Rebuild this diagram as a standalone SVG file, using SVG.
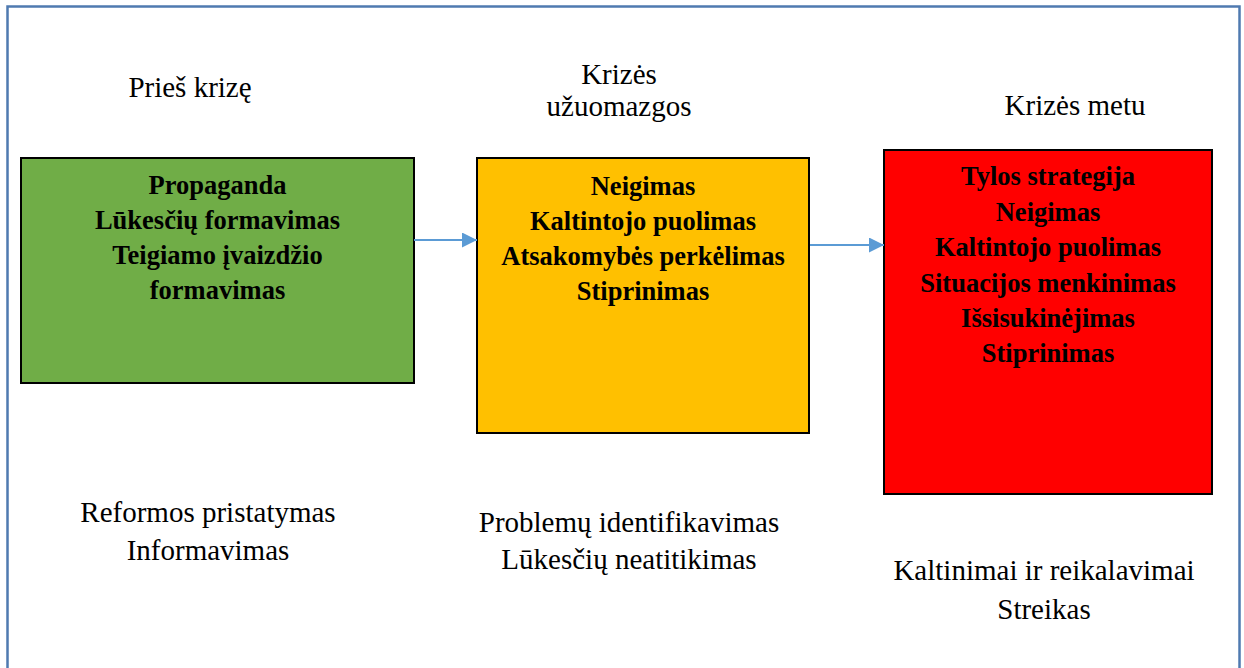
<svg xmlns="http://www.w3.org/2000/svg" width="1244" height="668" viewBox="0 0 1244 668">
<defs>
<marker id="ah" markerWidth="16" markerHeight="16" refX="15" refY="7.5" orient="auto" markerUnits="userSpaceOnUse">
<path d="M0,0 L15,7.5 L0,15 Z" fill="#5B9BD5"/>
</marker>
<style>
.box{stroke:#000;stroke-width:2}
.b{font-family:"Liberation Serif","Times New Roman",serif;font-weight:bold;font-size:26.5px;text-anchor:middle;fill:#000}
.r{font-family:"Liberation Serif","Times New Roman",serif;font-size:29px;text-anchor:middle;fill:#000}
.con{stroke:#5B9BD5;stroke-width:2;fill:none}
</style>
</defs>
<rect x="0" y="0" width="1244" height="668" fill="#fff"/>
<rect x="7.5" y="6.5" width="1232" height="680" fill="none" stroke="#4F7AB0" stroke-width="2.5"/>

<g id="labels">
<text class="r" x="190" y="97">Prieš krizę</text>
<text class="r" x="619" y="84">Krizės</text>
<text class="r" x="619" y="116">užuomazgos</text>
<text class="r" x="1075" y="115">Krizės metu</text>
<text class="r" x="208" y="522">Reformos pristatymas</text>
<text class="r" x="208" y="560">Informavimas</text>
<text class="r" x="629" y="532">Problemų identifikavimas</text>
<text class="r" x="629" y="569">Lūkesčių neatitikimas</text>
<text class="r" x="1044" y="580">Kaltinimai ir reikalavimai</text>
<text class="r" x="1044" y="619">Streikas</text>
</g>

<g id="node-green">
<rect class="box" x="21" y="158" width="393" height="225" fill="#70AD47"/>
<text class="b" x="217.5" y="194">Propaganda</text>
<text class="b" x="217.5" y="229">Lūkesčių formavimas</text>
<text class="b" x="217.5" y="264">Teigiamo įvaizdžio</text>
<text class="b" x="217.5" y="299">formavimas</text>
</g>

<g id="node-yellow">
<rect class="box" x="477" y="158" width="332" height="275" fill="#FFC000"/>
<text class="b" x="643" y="195">Neigimas</text>
<text class="b" x="643" y="230">Kaltintojo puolimas</text>
<text class="b" x="643" y="265">Atsakomybės perkėlimas</text>
<text class="b" x="643" y="300">Stiprinimas</text>
</g>

<g id="node-red">
<rect class="box" x="884" y="150" width="328" height="344" fill="#FF0000"/>
<text class="b" x="1048" y="185">Tylos strategija</text>
<text class="b" x="1048" y="220.5">Neigimas</text>
<text class="b" x="1048" y="256">Kaltintojo puolimas</text>
<text class="b" x="1048" y="291.5">Situacijos menkinimas</text>
<text class="b" x="1048" y="327">Išsisukinėjimas</text>
<text class="b" x="1048" y="362">Stiprinimas</text>
</g>

<g id="connectors">
<line class="con" x1="414" y1="240" x2="477" y2="240" marker-end="url(#ah)"/>
<line class="con" x1="810" y1="245" x2="884" y2="245" marker-end="url(#ah)"/>
</g>
</svg>
